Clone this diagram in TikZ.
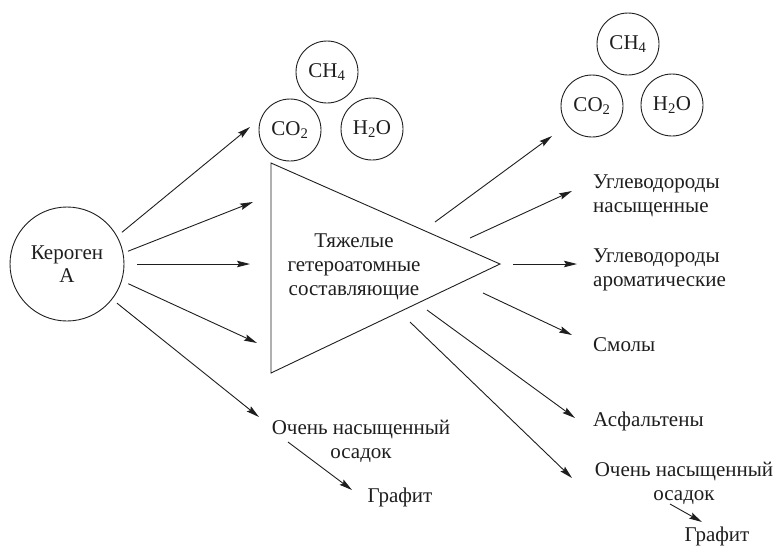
\documentclass[tikz,border=0pt]{standalone}
\usepackage{fontspec}
\setmainfont{Liberation Serif}
\usetikzlibrary{arrows.meta,positioning,calc}
\definecolor{ink}{HTML}{1E1E1E}

\begin{document}
\begin{tikzpicture}[x=1pt,y=-1pt,
    every node/.style={font=\fontsize{21}{24}\selectfont,text=ink},
    blob/.style={draw=ink,circle,line width=0.9pt,inner sep=0pt},
    gas/.style={blob,minimum size=62pt},
    prod/.style={anchor=west,align=left,inner sep=0pt},
    flow/.style={draw=ink,line width=0.9pt,-{Stealth[length=13pt,width=6.5pt,inset=2pt]}}]
  \useasboundingbox (0,0) rectangle (779,547);

  % source
  \node[blob,minimum size=114pt,align=center,font=\fontsize{21}{23}\selectfont] (ker) at (67,264) {Кероген\\А};

  % heavy fraction
  \coordinate (tl) at (271,163);
  \coordinate (bl) at (271,373);
  \coordinate (tip) at (500,264);
  \draw[ink,line width=0.9pt] (tl) -- (tip) -- (bl) -- cycle;
  \node[align=center,inner sep=0pt] (heavy) at (354,267) {Тяжелые\\гетероатомные\\составляющие};

  % gases, first stage
  \node[gas] (ch4a) at (327,72)  {CH\textsubscript{4}};
  \node[gas] (co2a) at (290,130) {CO\textsubscript{2}};
  \node[gas] (h2oa) at (372,129) {H\textsubscript{2}O};

  % gases, second stage
  \node[gas] (ch4b) at (628,44)  {CH\textsubscript{4}};
  \node[gas] (co2b) at (592,106) {CO\textsubscript{2}};
  \node[gas] (h2ob) at (672,105) {H\textsubscript{2}O};

  % products
  \node[align=center,inner sep=0pt] (resA) at (361,441) {Очень насыщенный\\осадок};
  \node[inner sep=0pt] (grA) at (400,497) {Графит};
  \node[prod] (sat)  at (593,196) {Углеводороды\\насыщенные};
  \node[prod] (arom) at (593,270) {Углеводороды\\ароматические};
  \node[prod] (resin) at (593,345) {Смолы};
  \node[prod] (asph) at (593,421) {Асфальтены};
  \node[align=center,inner sep=0pt] (resB) at (684,483) {Очень насыщенный\\осадок};
  \node[inner sep=0pt] (grB) at (717,536) {Графит};

  % arrow ends
  \coordinate (e1) at (250,127);
  \coordinate (e2) at (253,202);
  \coordinate (e3) at (250,264);
  \coordinate (e4) at (257,343);
  \coordinate (e5) at (259,417);
  \coordinate (s1) at (435,222);
  \coordinate (s2) at (470,238);
  \coordinate (s3) at (513,264);
  \coordinate (s4) at (483,293);
  \coordinate (s5) at (427,310);
  \coordinate (s6) at (410,322);
  \coordinate (f1) at (552,136);
  \coordinate (f2) at (572,191);
  \coordinate (f3) at (577,264);
  \coordinate (f4) at (572,335);
  \coordinate (f5) at (575,418);
  \coordinate (f6) at (572,478);
  \coordinate (g1) at (288,442);
  \coordinate (g2) at (352,490);
  \coordinate (g3) at (670,504);
  \coordinate (g4) at (702,522);

  \draw[flow,shorten <=6pt] (ker.29) -- (e1);
  \draw[flow,shorten <=5pt] (ker.11) -- (e2);
  \draw[flow,shorten <=13pt] (ker.0) -- (e3);
  \draw[flow,shorten <=7pt] (ker.-17) -- (e4);
  \draw[flow,shorten <=6pt] (ker.-38) -- (e5);

  \foreach \i in {1,...,6}
    \draw[flow] (s\i) -- (f\i);

  \draw[flow] (g1) -- (g2);
  \draw[flow] (g3) -- (g4);
\end{tikzpicture}
\end{document}
